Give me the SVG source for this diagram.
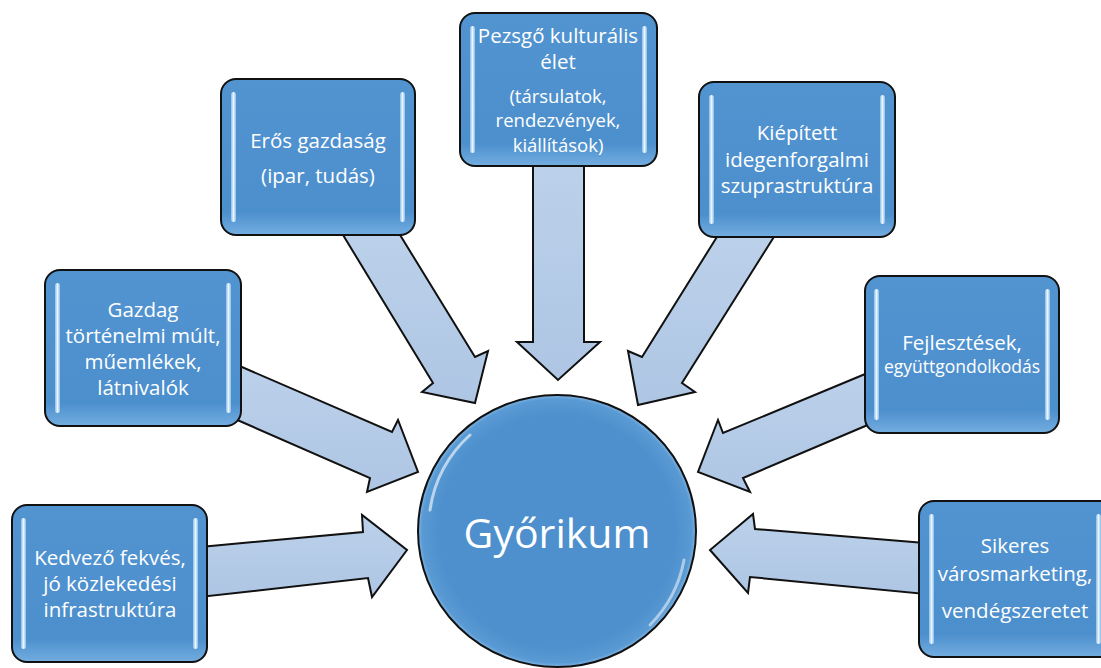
<svg xmlns="http://www.w3.org/2000/svg" width="1101" height="668" viewBox="0 0 1101 668">
<defs>
<linearGradient id="boxFill" x1="0" y1="0" x2="0" y2="1">
<stop offset="0" stop-color="#5294d0"/>
<stop offset="0.85" stop-color="#4c8fcd"/>
<stop offset="1" stop-color="#73ade0"/>
</linearGradient>
<linearGradient id="bar" x1="0" y1="0" x2="1" y2="0">
<stop offset="0" stop-color="#8cc4ee"/>
<stop offset="0.5" stop-color="#ffffff"/>
<stop offset="1" stop-color="#8cc4ee"/>
</linearGradient>
<radialGradient id="circFill" cx="0.5" cy="0.5" r="0.5">
<stop offset="0.85" stop-color="#4d90cd"/>
<stop offset="0.97" stop-color="#5a9ad4"/>
<stop offset="1" stop-color="#7fb4e3"/>
</radialGradient>
<linearGradient id="arrowFill" x1="0" y1="0" x2="0" y2="1">
<stop offset="0" stop-color="#bcd1ea"/>
<stop offset="1" stop-color="#aec6e4"/>
</linearGradient>
</defs>
<style>
.arrow{fill:url(#arrowFill);stroke:#111;stroke-width:2;stroke-linejoin:miter}
.box{fill:url(#boxFill);stroke:#111;stroke-width:2}
.bar{fill:url(#bar);opacity:0.9}
.t{font-family:"Open Sans","Noto Sans",sans-serif;fill:#fff;text-anchor:middle;font-size:20.5px}
.s{font-size:18.5px}
.gloss{fill:none;stroke:#fff;stroke-linecap:round}
</style>
<rect width="1101" height="668" fill="#fff"/>
<g id="connectors">
<polygon class="arrow" points="200,547 363,532 362,515 407,550 372,597 368,578 200,597"/>
<polygon class="arrow" points="235,364 392,432 398,420 418,472 367,492 370,478 235,419"/>
<polygon class="arrow" points="340,230 433,383 422,392 475,403 488,351 475,357 397,230"/>
<polygon class="arrow" points="533,160 533,342 517,342 558,380 600,342 584,342 584,160"/>
<polygon class="arrow" points="720,232 642,357 628,351 638,405 695,392 682,383 777,232"/>
<polygon class="arrow" points="870,372 723,433 718,420 698,472 750,492 743,478 870,424"/>
<polygon class="arrow" points="925,543 755,529 753,514 710,550 748,593 750,577 925,594"/>
</g>
<g id="center">
<ellipse cx="557" cy="531" rx="139" ry="136" fill="url(#circFill)" stroke="#111" stroke-width="2"/>
<path class="gloss" d="M430,510 A128,126 0 0 1 470,435" stroke-width="3" opacity="0.6"/>
<path class="gloss" d="M684,560 A128,126 0 0 1 650,625" stroke-width="3" opacity="0.5"/>
<text class="t" x="557" y="548" style="font-size:41px">Győrikum</text>
</g>
<g id="n1">
<rect class="box" x="12" y="505" width="195" height="157" rx="15"/>
<rect class="bar" x="21" y="518" width="5" height="131" rx="2.5"/>
<rect class="bar" x="193" y="518" width="5" height="131" rx="2.5"/>
<text class="t" x="110" y="565">Kedvező fekvés,</text>
<text class="t" x="110" y="591">jó közlekedési</text>
<text class="t" x="110" y="617">infrastruktúra</text>
</g>
<g id="n2">
<rect class="box" x="45" y="270" width="196" height="156" rx="15"/>
<rect class="bar" x="55" y="283" width="5" height="130" rx="2.5"/>
<rect class="bar" x="226" y="283" width="5" height="130" rx="2.5"/>
<text class="t" x="143" y="317">Gazdag</text>
<text class="t" x="143" y="343">történelmi múlt,</text>
<text class="t" x="143" y="369">műemlékek,</text>
<text class="t" x="143" y="395">látnivalók</text>
</g>
<g id="n3">
<rect class="box" x="221" y="79" width="194" height="156" rx="15"/>
<rect class="bar" x="231" y="92" width="5" height="130" rx="2.5"/>
<rect class="bar" x="400" y="92" width="5" height="130" rx="2.5"/>
<text class="t" x="318" y="148">Erős gazdaság</text>
<text class="t" x="318" y="183">(ipar, tudás)</text>
</g>
<g id="n4">
<rect class="box" x="460" y="13" width="197" height="153" rx="15"/>
<rect class="bar" x="470" y="26" width="5" height="127" rx="2.5"/>
<rect class="bar" x="642" y="26" width="5" height="127" rx="2.5"/>
<text class="t" x="558" y="43">Pezsgő kulturális</text>
<text class="t" x="558" y="69">élet</text>
<text class="t s" x="558" y="103">(társulatok,</text>
<text class="t s" x="558" y="127">rendezvények,</text>
<text class="t s" x="558" y="152">kiállítások)</text>
</g>
<g id="n5">
<rect class="box" x="699" y="82" width="196" height="155" rx="15"/>
<rect class="bar" x="709" y="95" width="5" height="129" rx="2.5"/>
<rect class="bar" x="880" y="95" width="5" height="129" rx="2.5"/>
<text class="t" x="797" y="140">Kiépített</text>
<text class="t" x="797" y="167">idegenforgalmi</text>
<text class="t" x="797" y="193">szuprastruktúra</text>
</g>
<g id="n6">
<rect class="box" x="865" y="276" width="194" height="157" rx="15"/>
<rect class="bar" x="874" y="289" width="5" height="131" rx="2.5"/>
<rect class="bar" x="1045" y="289" width="5" height="131" rx="2.5"/>
<text class="t" x="962" y="350">Fejlesztések,</text>
<text class="t" x="962" y="373" style="font-size:17.5px">együttgondolkodás</text>
</g>
<g id="n7">
<rect class="box" x="919" y="501" width="200" height="156" rx="15"/>
<rect class="bar" x="929" y="514" width="5" height="130" rx="2.5"/>
<rect class="bar" x="1096" y="514" width="5" height="130" rx="2.5"/>
<text class="t" x="1015" y="553">Sikeres</text>
<text class="t" x="1015" y="581">városmarketing,</text>
<text class="t" x="1015" y="618">vendégszeretet</text>
</g>
</svg>
